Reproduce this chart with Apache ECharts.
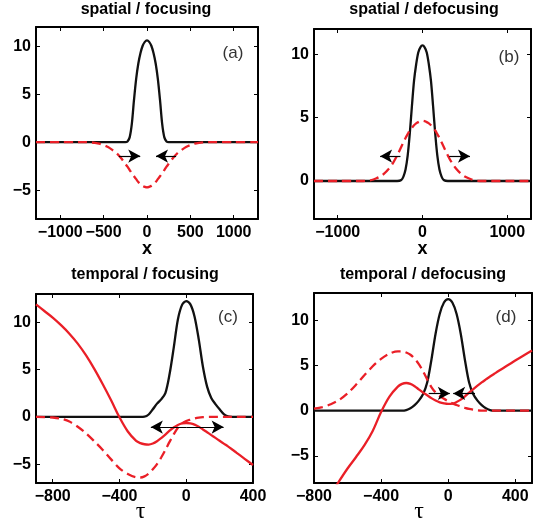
<!DOCTYPE html>
<html><head><meta charset="utf-8">
<script src="https://cdn.jsdelivr.net/npm/echarts@6/dist/echarts.min.js"></script>
<style>html,body{margin:0;padding:0;background:#fff}#c{width:542px;height:530px}</style>
</head><body><div id="c"></div>
<script>
// ---------- data ----------
const titles = ['spatial / focusing', 'spatial / defocusing', 'temporal / focusing', 'temporal / defocusing'];
const panelTags = ['(a)', '(b)', '(c)', '(d)'];

const xAB = [-1280,-1000,-800,-700,-650,-600,-550,-500,-450,-400,-350,-300,-250,-225,-200,-175,-150,-125,-100,-75,-50,-25,0,25,50,75,100,125,150,175,200,225,250,300,350,400,450,500,550,600,650,700,800,1000,1280];
const blackA = [0,0,0,0,0,0,0,0,0,0,0,0,0,0.08,0.5,1.9,4.4,6.6,8.2,9.3,10.05,10.45,10.6,10.45,10.05,9.3,8.2,6.6,4.4,1.9,0.5,0.08,0,0,0,0,0,0,0,0,0,0,0,0,0];
const redDashA = [0,0,0,0,-0.02,-0.07,-0.15,-0.3,-0.5,-0.8,-1.15,-1.65,-2.25,-2.55,-2.9,-3.25,-3.55,-3.85,-4.15,-4.4,-4.55,-4.65,-4.7,-4.65,-4.55,-4.4,-4.15,-3.85,-3.55,-3.25,-2.9,-2.55,-2.25,-1.65,-1.15,-0.8,-0.5,-0.3,-0.15,-0.07,-0.02,0,0,0,0];
const blackB = [0,0,0,0,0,0,0,0,0,0,0,0,0.08,0.35,0.9,2.0,3.75,5.9,7.9,9.2,10.15,10.55,10.7,10.55,10.15,9.2,7.9,5.9,3.75,2.0,0.9,0.35,0.08,0,0,0,0,0,0,0,0,0,0,0,0];
const redDashB = [0,0,0,0,0.02,0.08,0.2,0.35,0.6,0.95,1.4,2.0,2.7,3.05,3.4,3.7,4.0,4.2,4.4,4.55,4.65,4.72,4.75,4.72,4.65,4.55,4.4,4.2,4.0,3.7,3.4,3.05,2.7,2.0,1.4,0.95,0.6,0.35,0.2,0.08,0.02,0,0,0,0];

const xC = [-900,-850,-800,-750,-700,-650,-600,-550,-500,-450,-400,-350,-300,-275,-250,-225,-200,-175,-150,-125,-100,-75,-50,-25,0,25,50,75,100,125,150,175,200,225,250,275,300,350,400];
const blackC = [0,0,0,0,0,0,0,0,0,0,0,0,0,0,0.02,0.25,0.8,1.4,1.85,2.5,4.5,7.3,10.3,11.85,12.25,11.9,10.6,8.2,5.3,3.2,2.0,1.35,0.8,0.3,0.05,0,0,0,0];
const redSolidC = [11.9,11.2,10.5,9.7,8.8,7.75,6.5,5.05,3.45,1.75,-0.05,-1.55,-2.55,-2.78,-2.9,-2.93,-2.82,-2.58,-2.25,-1.87,-1.47,-1.12,-0.86,-0.7,-0.65,-0.7,-0.83,-1.05,-1.33,-1.63,-1.93,-2.23,-2.53,-2.83,-3.13,-3.45,-3.78,-4.44,-5.1];
const redDashC = [0,-0.02,-0.07,-0.2,-0.5,-1.05,-1.75,-2.6,-3.5,-4.5,-5.45,-6.05,-6.4,-6.42,-6.3,-6.0,-5.55,-5.0,-4.3,-3.5,-2.65,-1.85,-1.15,-0.7,-0.45,-0.3,-0.17,-0.08,-0.03,-0.01,0,0,0,0,0,0,0,0,0];

const xD = [-800,-750,-700,-650,-600,-550,-500,-450,-400,-350,-300,-275,-250,-225,-200,-175,-150,-125,-100,-75,-50,-25,0,25,50,75,100,125,150,175,200,225,250,275,300,350,400,450,500];
const blackD = [0,0,0,0,0,0,0,0,0,0,0,0,0.06,0.25,0.6,1.1,1.8,3.1,5.6,8.5,10.7,11.95,12.33,11.95,10.7,8.5,5.6,3.1,1.8,1.1,0.6,0.25,0.06,0,0,0,0,0,0];
const redDashD = [0.22,0.38,0.7,1.18,1.9,2.85,3.9,4.9,5.72,6.3,6.55,6.55,6.42,6.18,5.75,5.15,4.35,3.45,2.6,2.0,1.6,1.3,1.05,0.8,0.62,0.45,0.3,0.18,0.1,0.04,0.01,0,0,0,0,0,0,0,0];
const redSolidD = [null,null,-9.3,-7.8,-6.4,-5.15,-3.85,-2.25,-0.15,1.55,2.65,2.95,3.05,2.95,2.7,2.35,2.0,1.7,1.38,1.12,0.92,0.8,0.74,0.77,0.95,1.22,1.58,1.98,2.38,2.76,3.12,3.45,3.77,4.07,4.37,4.95,5.53,6.1,6.65];

// arrows: [xFrom, xTo, y]
const arrowsA = [[-325,-78,-1.45],[336,104,-1.45]];
const arrowsB = [[-260,-500,1.96],[315,560,1.96]];
const arrowsC = [[0,-212,-1.08],[0,224,-1.08]];
const arrowsD = [[-116,10,1.9],[160,30,1.9]];

// axis ranges and ticks
const xRanges = [[-1280,1280],[-1280,1280],[-900,400],[-800,500]];
const yRanges = [[-8,12],[-3,12],[-7,13],[-8,13]];
const xTicks = [[-1000,-500,0,500,1000],[-1000,0,1000],[-800,-400,0,400],[-800,-400,0,400]];
const yTicks = [[-5,0,5,10],[0,5,10],[-5,0,5,10],[-5,0,5,10]];
const xNames = ['x','x','\u03c4','\u03c4'];

// ---------- layout ----------
const grids = [
  {left:36, top:27, width:222, height:192},
  {left:314, top:29, width:217, height:190},
  {left:36, top:294, width:217, height:189},
  {left:314, top:293, width:218, height:190}
];
const titlePos = [[146,2],[424,2],[145,267],[423,267]];
const tagPos = [[233,53],[509,57],[228,317],[506,317]];

const RED = '#ea1f27', BLACK = '#111';
const fmt = v => String(v).replace('-', '\u2212');
const pairs = (xs, ys) => xs.map((x,i)=>[x, ys[i]]).filter(p => p[1] !== null);

const xAxis = [], yAxis = [], series = [];
const lineAx = {show:true, onZero:false, lineStyle:{color:'#000', width:2}};
for (let g = 0; g < 4; g++) {
  const serif = g >= 2;
  const tickStyle = {inside:true, length:4, lineStyle:{color:'#000', width:1}};
  xAxis.push({
    gridIndex:g, type:'value', position:'bottom', min:xRanges[g][0], max:xRanges[g][1],
    axisLine:lineAx, splitLine:{show:false},
    axisTick:Object.assign({customValues:xTicks[g]}, tickStyle),
    axisLabel:{customValues:xTicks[g], formatter:fmt, fontFamily:'Liberation Sans', fontWeight:'bold', fontSize:16, color:'#000', margin:6},
    name:xNames[g], nameLocation:'middle', nameGap: serif ? 17 : 21, nameMoveOverlap:false,
    nameTextStyle: serif ? {fontFamily:'Liberation Serif', fontSize:24, color:'#000', padding:[0,8,0,0]}
                         : {fontFamily:'Liberation Sans', fontWeight:'bold', fontSize:18, color:'#000'}
  });
  xAxis.push({
    gridIndex:g, type:'value', position:'top', min:xRanges[g][0], max:xRanges[g][1],
    axisLine:lineAx, splitLine:{show:false},
    axisTick:Object.assign({customValues:xTicks[g]}, tickStyle),
    axisLabel:{show:false}
  });
  yAxis.push({
    gridIndex:g, type:'value', position:'left', min:yRanges[g][0], max:yRanges[g][1],
    axisLine:lineAx, splitLine:{show:false},
    axisTick:Object.assign({customValues:yTicks[g]}, tickStyle),
    axisLabel:{customValues:yTicks[g], formatter:fmt, fontFamily:'Liberation Sans', fontWeight:'bold', fontSize:16, color:'#000', margin:5}
  });
  yAxis.push({
    gridIndex:g, type:'value', position:'right', min:yRanges[g][0], max:yRanges[g][1],
    axisLine:lineAx, splitLine:{show:false},
    axisTick:Object.assign({customValues:yTicks[g]}, tickStyle),
    axisLabel:{show:false}
  });
}

function arrowMark(arr) {
  return {
    silent:true, animation:false, symbol:['none','arrow'], symbolSize:[10,12],
    label:{show:false}, lineStyle:{color:'#000', width:1.2, type:'solid'},
    emphasis:{disabled:true},
    data: arr.map(a => [{coord:[a[0], a[2]]}, {coord:[a[1], a[2]]}])
  };
}

const panelSeries = [
  {x:xAB, black:blackA, dash:redDashA, solid:null, arrows:arrowsA},
  {x:xAB, black:blackB, dash:redDashB, solid:null, arrows:arrowsB},
  {x:xC, black:blackC, dash:redDashC, solid:redSolidC, arrows:arrowsC},
  {x:xD, black:blackD, dash:redDashD, solid:redSolidD, arrows:arrowsD}
];
panelSeries.forEach((p, g) => {
  const base = {type:'line', xAxisIndex:2*g, yAxisIndex:2*g, showSymbol:false, symbol:'none', smooth:0.3, clip:true, silent:true, animation:false};
  series.push(Object.assign({}, base, {name:'black'+g, data:pairs(p.x, p.black), lineStyle:{color:BLACK, width:2.3}, z:2, markLine:arrowMark(p.arrows)}));
  series.push(Object.assign({}, base, {name:'dash'+g, data:pairs(p.x, p.dash), lineStyle:{color:RED, width:2.3, type:[9,5]}, z:3}));
  if (p.solid) series.push(Object.assign({}, base, {name:'solid'+g, smooth:0.35, data:pairs(p.x, p.solid), lineStyle:{color:RED, width:2.3}, z:4}));
});

const title = titles.map((t, i) => ({
  text:t, left:titlePos[i][0], top:titlePos[i][1], textAlign:'center', padding:0,
  textStyle:{fontFamily:'Liberation Sans', fontWeight:'bold', fontSize:16, color:'#000'}
}));

const graphic = panelTags.map((t, i) => ({
  type:'text', x:tagPos[i][0], y:tagPos[i][1], silent:true,
  style:{text:t, fontFamily:'Liberation Sans', fontSize:17, fill:'#333', align:'center', verticalAlign:'middle', textAlign:'center', textVerticalAlign:'middle'}
}));

const chart = echarts.init(document.getElementById('c'), null, {renderer:'canvas'});
chart.setOption({
  animation:false, backgroundColor:'#fff',
  title, grid:grids, xAxis, yAxis, series, graphic
});
</script>
</body></html>
